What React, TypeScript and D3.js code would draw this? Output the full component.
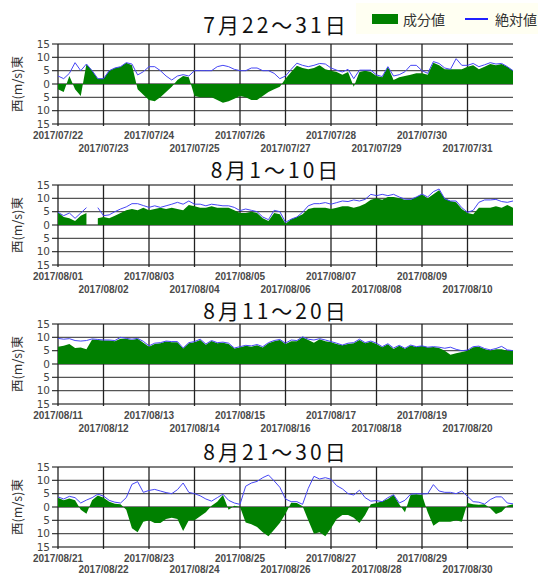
import React from 'react';
import * as d3 from 'd3';

const W = 538;
const H = 574;
const X0 = 58;
const X1 = 513;
const PANEL_H = 80;
const SAMPLES_PER_DAY = 8;

const titles = ['7月22～31日', '8月1～10日', '8月11～20日', '8月21～30日'];

const dates1 = ['2017/07/22', '2017/07/23', '2017/07/24', '2017/07/25', '2017/07/26', '2017/07/27', '2017/07/28', '2017/07/29', '2017/07/30', '2017/07/31'];
const dates2 = ['2017/08/01', '2017/08/02', '2017/08/03', '2017/08/04', '2017/08/05', '2017/08/06', '2017/08/07', '2017/08/08', '2017/08/09', '2017/08/10'];
const dates3 = ['2017/08/11', '2017/08/12', '2017/08/13', '2017/08/14', '2017/08/15', '2017/08/16', '2017/08/17', '2017/08/18', '2017/08/19', '2017/08/20'];
const dates4 = ['2017/08/21', '2017/08/22', '2017/08/23', '2017/08/24', '2017/08/25', '2017/08/26', '2017/08/27', '2017/08/28', '2017/08/29', '2017/08/30'];

const yTicks = [15, 10, 5, 0, -5, -10, -15];

// 3-hourly values, 8 per day, plus end point
const jul22Abs = [
  3, 2, 4, 8, 5, 7.5, 5, 2,
  2, 5, 6, 6.5, 8, 7.5, 3.4, 4.6,
  6.5, 6.5, 5, 3, 1.5, 3, 3.5, 3,
  5, 5, 5, 5, 6.5, 7, 6.5, 5.5,
  5, 5, 6, 6, 5, 5, 4, 2,
  3, 5.5, 7.8, 7, 6.5, 7, 7.7, 7.5,
  6, 5.2, 4.5, 5.5, 2, 5.2, 5.2, 5.2,
  3.4, 2.8, 6.5, 3, 3.5, 4.6, 7, 7,
  5, 4, 8.4, 7.7, 6, 5.5, 9.5, 7,
  7, 7.7, 6.5, 7.2, 8, 7.5, 7.7, 6.5, 5,
];
const jul22Comp = [
  -2, -3, 3, -2, -4.5, 7.5, 5, 2,
  2, 5, 6, 6.5, 8, 7, -2, -4,
  -6, -6.5, -5, -3, -1, 1.5, 3, 2.5,
  -4.5, -5, -5, -5, -6, -7, -6.5, -5.5,
  -4.5, -5, -6, -6, -4.5, -3, -2, -1,
  2, 4.5, 6.8, 6, 5.5, 6, 7, 5.5,
  5, 4.5, 3.5, 4.5, -1, 4.5, 5, 4.5,
  3, 2.5, 6.5, 1.5, 2.5, 3, 3.5, 4,
  4, 3.5, 8, 7, 5.5, 5.5, 5.5, 5.5,
  6.5, 7, 5.5, 6.5, 7.5, 7, 7.5, 6.5, 5,
];

const aug01Abs = [
  4.75, 3.5, 4.5, 2.5, 4.5, 6.5, null, 6.5,
  3.5, 3.8, 5, 6, 6.8, 8, 8, 7.3,
  6.6, 7.2, 6.6, 7.2, 7.8, 8.5, 7.8, 9,
  7.8, 7.8, 7.2, 7.8, 7.5, 7.2, 7.2, 6.6,
  5.4, 6, 5.5, 5, 3, 2, 5.5, 5,
  1, 2.2, 3, 4.75, 7.2, 8, 8, 8.4,
  7.8, 8.4, 9, 8.8, 9.4, 9, 9.6, 11.5,
  11, 11.5, 11, 11.5, 10.5, 9.7, 9.6, 10.5,
  11.6, 10.5, 12.5, 13.5, 9.8, 9, 9, 6.5,
  4.75, 5.5, 8.5, 9.4, 9.4, 9.6, 8.8, 8.5, 9,
];
const aug01Comp = [
  4.75, 3, 2.5, 1.5, 3.5, 4.5, null, 2.5,
  3, 2.5, 3.5, 4.5, 5.5, 6, 5.5, 6.5,
  5.5, 6, 6.5, 6, 6.5, 6, 5.5, 7.5,
  7, 6.5, 6.5, 7, 6.5, 6.5, 6.5, 5.5,
  4.5, 4.5, 5, 4.5, 2.5, 1.5, 4.5, 4,
  0.5, 2.2, 3, 4, 6, 6.5, 6.5, 6.5,
  6, 6.5, 7, 7, 6.5, 7, 8, 9.5,
  10, 9.5, 10.5, 10.5, 10, 9.5, 9.5, 10.5,
  11.5, 10, 11.5, 13, 10, 9, 8.5, 6,
  4.5, 4, 6.5, 6.5, 6.5, 7, 6.5, 7.5, 6.5,
];

const aug11Abs = [
  9.6, 9.3, 9.5, 8.8, 8.6, 8.8, 9.4, 9.2,
  9, 9, 8.8, 10, 9.6, 9.3, 9.6, 8.5,
  6.8, 7.8, 8, 8.6, 8.4, 8.4, 6, 8,
  8.4, 9.3, 7.5, 8.8, 8, 8.2, 7.8, 6,
  6.5, 7, 6.8, 7.3, 6.5, 8, 8.8, 9.2,
  7.8, 9, 8.8, 10.2, 9.3, 9, 9.5, 9,
  8.4, 7.8, 7.1, 7.8, 8, 9.3, 8, 8.6,
  7.8, 6.5, 7.6, 6, 7, 5.9, 7.1, 6.5,
  6.8, 6.3, 6.5, 6.3, 5.9, 6.3, 5.5, 5,
  5.2, 6.5, 6.7, 5.8, 5.3, 5.8, 6.6, 5.3, 5,
];
const aug11Comp = [
  6.5, 6.8, 7.5, 6, 6.2, 5.5, 9.2, 9,
  8.8, 8.8, 8.5, 9.5, 9.5, 9, 9.5, 8,
  6.5, 7.5, 7.8, 8.4, 8.2, 8.2, 5.8, 7.8,
  8.2, 9, 7.2, 8.6, 7.8, 8, 7.5, 5.8,
  6.2, 6.8, 6.5, 7, 6.2, 7.8, 8.5, 9,
  7.5, 8.5, 8.5, 10, 9, 8, 9.3, 8.5,
  8.2, 7.5, 7, 7.5, 7.8, 9, 7.8, 8.3,
  7.5, 6.3, 7.4, 5.6, 6.8, 5.7, 6.9, 6.4,
  6.8, 6.2, 6.4, 6, 5, 3.5, 4, 4.5,
  5, 6.3, 6.5, 5.6, 5, 5.5, 5.5, 5, 5,
];

const aug21Abs = [
  3.8, 3, 4, 3.5, 1.5, 2.6, 3.5, 4.8,
  4.1, 2.5, 1.8, 1.5, 3.5, 8.5, 9.5, 5.5,
  6.2, 6.6, 6, 5.4, 5, 6.5, 9, 5.5,
  5, 4.2, 3, 2.2, 3.5, 4.8, 2.5, 1.5,
  1, 7.8, 9, 9.6, 11, 12, 9.8, 7.4,
  3, 2, 2, 1, 7, 11.5, 10.5, 11,
  10.4, 8, 6.8, 5, 4.5, 6.3, 3.5, 2.2,
  2.4, 2, 3.5, 4.6, 1.5, 2.5, 4.8, 5,
  4.9, 5, 8.4, 6, 5.5, 5.5, 5, 6,
  4, 2, 1.8, 1.1, 2.8, 3.8, 3.8, 1.5, 1.2,
];
const aug21Comp = [
  3.5, 2.5, 3.2, 2.5, -1, -2.5, 2.5, 4.3,
  3.5, 2, 1.2, 1, -1, -8, -9.5, -5.5,
  -5, -6, -6, -4.5, -4, -4.5, -9, -5,
  -5, -3.5, -2, 0.5, 2, 4.5, -1, 0.5,
  0, -5.8, -6.5, -7.5, -9.5, -11, -8.5, -6,
  -2.5, 1.6, 1.5, 0.3, -5, -10, -9.5, -11,
  -8, -4.5, -3, -3, -4, -6, -3, 1,
  1.5, 2.2, 3, 4.6, 1, -2, 4.6, 4.8,
  4.5, -2, -7, -5.5, -5.5, -5.5, -5, -5.5,
  1.5, 1, 0.8, 1, -0.5, -2.6, -1.8, 0.5, 1,
];

const panels = [
  { title: titles[0], dates: dates1, abs: jul22Abs, comp: jul22Comp, top: 44, titleY: 33, row2: 28 },
  { title: titles[1], dates: dates2, abs: aug01Abs, comp: aug01Comp, top: 185, titleY: 178, row2: 28 },
  { title: titles[2], dates: dates3, abs: aug11Abs, comp: aug11Comp, top: 324, titleY: 319, row2: 28 },
  { title: titles[3], dates: dates4, abs: aug21Abs, comp: aug21Comp, top: 467, titleY: 460, row2: 26 },
];

type Pt = { t: number; v: number | null };

const x = d3.scaleLinear().domain([0, 10]).range([X0, X1]);
const JP = '"Noto Sans CJK JP", "Noto Sans", sans-serif';

function Panel({ p }: { p: typeof panels[number] }) {
  const y = d3.scaleLinear().domain([-15, 15]).range([p.top + PANEL_H, p.top]);
  const comp: Pt[] = p.comp.map((v, i) => ({ t: i / SAMPLES_PER_DAY, v }));
  const abs: Pt[] = p.abs.map((v, i) => ({ t: i / SAMPLES_PER_DAY, v }));
  const area = d3
    .area<Pt>()
    .defined((d) => d.v != null)
    .x((d) => x(d.t))
    .y0(y(0))
    .y1((d) => y(d.v as number));
  const line = d3
    .line<Pt>()
    .defined((d) => d.v != null)
    .x((d) => x(d.t))
    .y((d) => y(d.v as number));
  const days = d3.range(10);
  return (
    <g>
      <text
        x={276}
        y={p.titleY}
        textAnchor="middle"
        fontFamily={JP}
        fontSize={21}
        letterSpacing={3}
        fill="#111"
      >
        {p.title}
      </text>
      {yTicks.map((t) => (
        <g key={t}>
          <line x1={X0} x2={X1} y1={y(t)} y2={y(t)} stroke="#555" strokeWidth={1.4} />
          <line x1={X0 - 6} x2={X0} y1={y(t)} y2={y(t)} stroke="#333" strokeWidth={1.2} />
          <text
            x={50}
            y={y(t)}
            dy="0.36em"
            textAnchor="end"
            fontFamily="DejaVu Sans, sans-serif"
            fontSize={10.5}
            fill="#444"
          >
            {Math.abs(t)}
          </text>
        </g>
      ))}
      {days.map((d) => (
        <line
          key={d}
          x1={x(d)}
          x2={x(d)}
          y1={p.top}
          y2={p.top + PANEL_H + 2}
          stroke="#222"
          strokeWidth={1.3}
        />
      ))}
      <path d={area(comp) || ''} fill="#008000" />
      <path d={line(abs) || ''} fill="none" stroke="#4646f5" strokeWidth={1} />
      {p.dates.map((s, i) => (
        <text
          key={s}
          x={x(i)}
          y={p.top + PANEL_H + (i % 2 === 0 ? 15 : p.row2)}
          textAnchor="middle"
          fontFamily="Liberation Sans, Arial, sans-serif"
          fontSize={10}
          fontWeight="bold"
          fill="#4a4a4a"
        >
          {s}
        </text>
      ))}
      <text
        transform={`translate(18,${p.top + PANEL_H / 2}) rotate(-90)`}
        textAnchor="middle"
        dy="0.35em"
        fontFamily={JP}
        fontSize={12.5}
        fill="#333"
      >
        西(m/s)東
      </text>
    </g>
  );
}

export default function App() {
  return (
    <svg
      width={W}
      height={H}
      viewBox={`0 0 ${W} ${H}`}
      style={{ position: 'absolute', left: 0, top: 0, background: '#fff' }}
    >
      <rect x={0} y={0} width={W} height={H} fill="#fff" />
      <rect x={356} y={3} width={182} height={31} fill="#fffff2" />
      <rect x={372} y={14} width={26} height={10} fill="#008000" />
      <text x={403} y={25} fontFamily={JP} fontSize={14} fill="#333">
        成分値
      </text>
      <line x1={465} x2={488} y1={19} y2={19} stroke="#2020ff" strokeWidth={2} />
      <text x={495} y={25} fontFamily={JP} fontSize={14} fill="#333">
        絶対値
      </text>
      {panels.map((p) => (
        <Panel key={p.title} p={p} />
      ))}
    </svg>
  );
}
